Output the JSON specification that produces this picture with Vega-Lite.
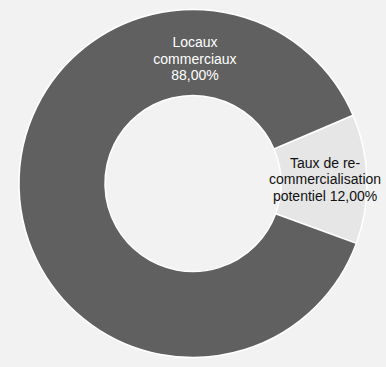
{
  "$schema": "https://vega.github.io/schema/vega-lite/v6.json",
  "width": 386,
  "height": 367,
  "autosize": {"type": "fit", "contains": "padding"},
  "padding": 0,
  "background": "#f2f2f2",
  "config": {"view": {"stroke": null}},
  "layer": [
    {
      "data": {"values": [
        {"category": "Taux de re-commercialisation potentiel", "value": 12, "order": 1},
        {"category": "Locaux commerciaux", "value": 88, "order": 2}
      ]},
      "mark": {"type": "arc", "outerRadius": 174, "innerRadius": 88, "stroke": "#ffffff", "strokeWidth": 1.5},
      "encoding": {
        "theta": {"field": "value", "type": "quantitative", "stack": true, "scale": {"range": [1.168, 7.451]}},
        "order": {"field": "order", "type": "quantitative"},
        "color": {"field": "category", "type": "nominal", "legend": null,
          "scale": {"domain": ["Locaux commerciaux", "Taux de re-commercialisation potentiel"], "range": ["#606060", "#e6e6e6"]}}
      }
    },
    {
      "data": {"values": [
        {"label": "Locaux\ncommerciaux\n88,00%", "angle": 0.8, "r": 0.812, "tone": "light"},
        {"label": "Taux de re-\ncommercialisation\npotentiel 12,00%", "angle": 81.4, "r": 0.772, "tone": "dark"}
      ]},
      "mark": {"type": "text", "lineBreak": "\n", "font": "Liberation Sans", "fontSize": 14, "lineHeight": 16.5, "align": "center", "baseline": "middle"},
      "encoding": {
        "theta": {"field": "angle", "type": "quantitative", "scale": {"domain": [0, 360], "range": [0, 6.2832]}},
        "radius": {"field": "r", "type": "quantitative", "scale": {"type": "linear", "zero": true, "domain": [0, 1], "range": [0, 173]}},
        "text": {"field": "label", "type": "nominal"},
        "color": {"field": "tone", "type": "nominal", "legend": null, "scale": {"domain": ["light", "dark"], "range": ["#ffffff", "#111111"]}}
      }
    }
  ],
  "resolve": {"scale": {"theta": "independent", "color": "independent", "radius": "independent"}}
}
